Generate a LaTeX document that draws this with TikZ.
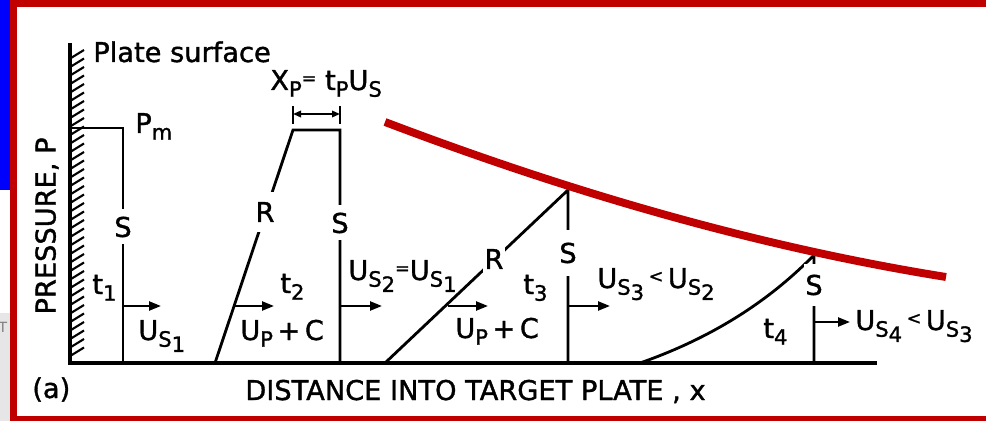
\documentclass[tikz,border=0pt]{standalone}
\usepackage{fontspec}
\setmainfont{DejaVu Sans}[BoldFont={DejaVu Sans}, BoldFeatures={FakeBold=1.3}]
\usepackage{xcolor}
\usetikzlibrary{arrows.meta, positioning}
\definecolor{framered}{RGB}{192,0,0}
\definecolor{framegray}{RGB}{230,230,230}
\newcommand{\smallrel}[1]{{\fontsize{10}{10}\selectfont\raisebox{.6ex}{#1}}}
\newcommand{\lowr}[1]{\raisebox{-0.45ex}{\fontsize{12}{12}\selectfont #1}}
\tikzset{
  lettering/.style={
    font=\fontsize{15.5}{18}\selectfont\bfseries, inner sep=0pt
  },
  gaplabel/.style={
    font=\fontsize{15.5}{18}\selectfont\bfseries, fill=white,
    inner xsep=1pt, inner ysep=0pt, minimum height=7mm
  },
  profileline/.style={line width=1.6pt, line join=miter},
  wallline/.style={line width=2.4pt},
  hatchline/.style={line width=1.2pt},
  flowarrow/.style={
    line width=1.3pt, -{Triangle[length=2.4mm, width=1.8mm]}
  },
  dimarrow/.style={
    line width=1pt,
    {Triangle[length=1.6mm, width=1.3mm]}-{Triangle[length=1.6mm, width=1.3mm]}
  },
  envelope/.style={line width=4.5pt, color=framered},
}

\begin{document}
\begin{tikzpicture}[x=0.2mm, y=-0.2mm]
  \useasboundingbox (0,0) rectangle (986,421);

  % Screen frame
  \fill[blue] (0,0) rectangle (9.5,190);
  \fill[framegray] (0,313) rectangle (9.5,421);
  \node[font=\fontsize{8}{8}\selectfont, text=gray, anchor=center] (edgemark) at (3,327) {T};
  \fill[framered] (9.5,0) rectangle (986,7);
  \fill[framered] (9.5,0) rectangle (17,421);
  \fill[framered] (9.5,416) rectangle (986,421);

  % Plate surface and axis
  \foreach \y in {58,66.5,...,358}
    \draw[hatchline] (71,\y) -- (84,\y-8);
  \draw[wallline] (70,43) -- (70,363);
  \draw[wallline] (68,363) -- (877,363);

  % Pulse at t1
  \draw[profileline] (70,128) -- (123,128) -- (123,363);
  \node[gaplabel] (s1) at (123,227) {S};

  % Pulse at t2
  \draw[profileline] (215,363) -- (293,130) -- (340,130) -- (340,363);
  \node[gaplabel, minimum height=8mm] (r2) at (265,212) {R};
  \node[gaplabel] (s2) at (340,223) {S};
  \draw[line width=1pt] (293,106) -- (293,124);
  \draw[line width=1pt] (340,106) -- (340,124);
  \draw[dimarrow] (293,114) -- (340,114);

  % Pulse at t3
  \draw[profileline] (385,363) -- (568,190) -- (568,363);
  \node[gaplabel, minimum height=7.5mm] (r3) at (494,259) {R};
  \node[gaplabel, minimum height=9mm] (s3) at (568,253) {S};

  % Pulse at t4
  \draw[profileline] (640,363) .. controls (720,335) and (775,295) .. (814,255)
    -- (814,363);
  \node[gaplabel, minimum height=8.5mm] (s4) at (814,285) {S};

  % Peak pressure decay
  \draw[envelope] (385,122) .. controls (572,193) and (759,247) .. (946,277);

  % Front velocities
  \draw[flowarrow] (123,306) -- (161,306);
  \draw[flowarrow] (234,306) -- (274,306);
  \draw[flowarrow] (340,306) -- (382,306);
  \draw[flowarrow] (448,306) -- (488,306);
  \draw[flowarrow] (568,306) -- (610,306);
  \draw[flowarrow] (814,322) -- (850,322);

  % Labels
  \node[lettering, anchor=base west] (plate) at (93,62) {Plate surface};
  \node[lettering, anchor=base west] (pm) at (135,133) {P\lowr{m}};
  \node[lettering, anchor=base west] (xp) at (270,90)
    {X\lowr{P}\smallrel{=} t\lowr{P}U\lowr{S}};
  \node[lettering, anchor=base west] (t1) at (92,294) {t\lowr{1}};
  \node[lettering, anchor=base west] (us1) at (138,340) {U\lowr{S\lowr{1}}};
  \node[lettering, anchor=base west] (t2) at (280,293) {t\lowr{2}};
  \node[lettering, anchor=base west] (upc1) at (240,340) {U\lowr{P}\,+\,C};
  \node[lettering, anchor=base west] (us2) at (348,280)
    {U\lowr{S\lowr{2}}\smallrel{=}U\lowr{S\lowr{1}}};
  \node[lettering, anchor=base west] (t3) at (523,294) {t\lowr{3}};
  \node[lettering, anchor=base west] (upc2) at (455,338) {U\lowr{P}\,+\,C};
  \node[lettering, anchor=base west] (us3) at (597,288)
    {U\lowr{S\lowr{3}}\,\smallrel{<}\,U\lowr{S\lowr{2}}};
  \node[lettering, anchor=base west] (t4) at (763,338) {t\lowr{4}};
  \node[lettering, anchor=base west] (us4) at (855,330)
    {U\lowr{S\lowr{4}}\,\smallrel{<}\,U\lowr{S\lowr{3}}};
  \node[lettering, rotate=90] (pressure) at (47,226) {PRESSURE, P};
  \node[lettering, anchor=base west] (panel) at (32,398) {(a)};
  \node[lettering, anchor=base west] (distance) at (245,400)
    {DISTANCE INTO TARGET PLATE , x};
\end{tikzpicture}
\end{document}
